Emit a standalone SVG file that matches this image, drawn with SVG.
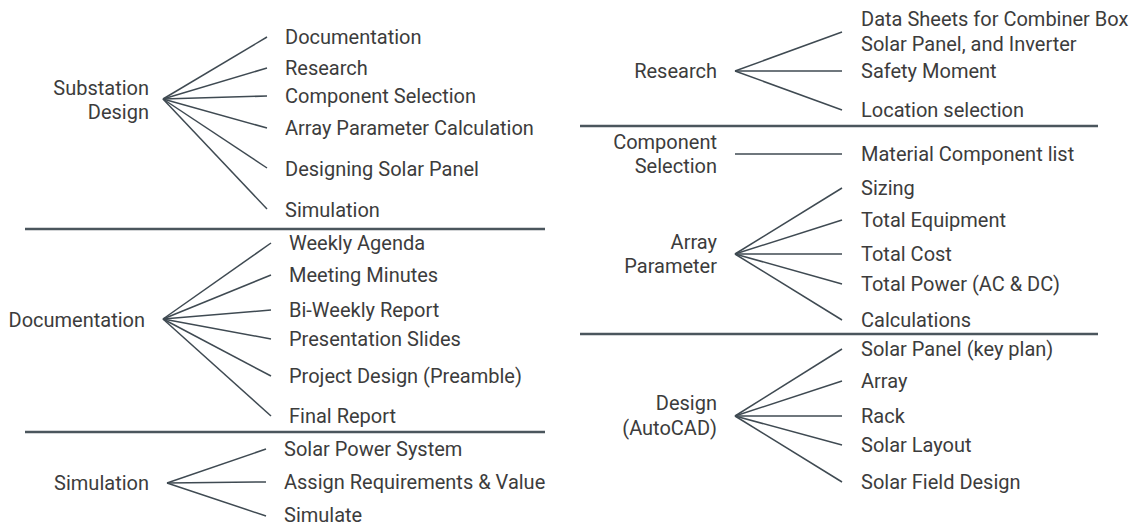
<svg xmlns="http://www.w3.org/2000/svg" width="1133" height="527" viewBox="0 0 1133 527">
<style>
text{font-family:Roboto,"Liberation Sans",sans-serif;font-size:20px;fill:#3c3c3c}
.r{text-anchor:end}
.c line{stroke:#3f4a52;stroke-width:1.5}
.d{stroke:#4b565d;stroke-width:2.5}
</style>
<rect width="1133" height="527" fill="#fff"/>
<g id="connectors" class="c">
<line x1="163" y1="99" x2="267" y2="37"/>
<line x1="163" y1="99" x2="267" y2="68"/>
<line x1="163" y1="99" x2="267" y2="96"/>
<line x1="163" y1="99" x2="267" y2="128"/>
<line x1="163" y1="99" x2="267" y2="168"/>
<line x1="163" y1="99" x2="267" y2="209"/>
<line x1="163" y1="319" x2="271" y2="243"/>
<line x1="163" y1="319" x2="271" y2="275"/>
<line x1="163" y1="319" x2="271" y2="310"/>
<line x1="163" y1="319" x2="271" y2="339"/>
<line x1="163" y1="319" x2="271" y2="376"/>
<line x1="163" y1="319" x2="271" y2="416"/>
<line x1="167" y1="483" x2="266" y2="449"/>
<line x1="167" y1="483" x2="266" y2="482"/>
<line x1="167" y1="483" x2="266" y2="516"/>
<line x1="735" y1="71" x2="842" y2="32"/>
<line x1="735" y1="71" x2="842" y2="71"/>
<line x1="735" y1="71" x2="842" y2="110"/>
<line x1="735" y1="154" x2="842" y2="154"/>
<line x1="735" y1="254" x2="842" y2="188"/>
<line x1="735" y1="254" x2="842" y2="220"/>
<line x1="735" y1="254" x2="842" y2="254"/>
<line x1="735" y1="254" x2="842" y2="284"/>
<line x1="735" y1="254" x2="842" y2="320"/>
<line x1="735" y1="416" x2="842" y2="349"/>
<line x1="735" y1="416" x2="842" y2="381"/>
<line x1="735" y1="416" x2="842" y2="416"/>
<line x1="735" y1="416" x2="842" y2="445"/>
<line x1="735" y1="416" x2="842" y2="482"/>
</g>
<g id="dividers">
<line class="d" x1="25" y1="229" x2="545" y2="229"/>
<line class="d" x1="25" y1="432" x2="545" y2="432"/>
<line class="d" x1="580" y1="126" x2="1098" y2="126"/>
<line class="d" x1="580" y1="334" x2="1098" y2="334"/>
</g>
<g id="substation-design">
<text class="r" x="149" y="95">Substation</text>
<text class="r" x="149" y="119">Design</text>
<text x="285" y="44">Documentation</text>
<text x="285" y="75">Research</text>
<text x="285" y="103">Component Selection</text>
<text x="285" y="135">Array Parameter Calculation</text>
<text x="285" y="176">Designing Solar Panel</text>
<text x="285" y="217">Simulation</text>
</g>
<g id="documentation">
<text class="r" x="145" y="327">Documentation</text>
<text x="289" y="250">Weekly Agenda</text>
<text x="289" y="282">Meeting Minutes</text>
<text x="289" y="317">Bi-Weekly Report</text>
<text x="289" y="346">Presentation Slides</text>
<text x="289" y="383">Project Design (Preamble)</text>
<text x="289" y="423">Final Report</text>
</g>
<g id="simulation">
<text class="r" x="149" y="490">Simulation</text>
<text x="284" y="456">Solar Power System</text>
<text x="284" y="489">Assign Requirements &amp; Value</text>
<text x="284" y="522">Simulate</text>
</g>
<g id="research">
<text class="r" x="717" y="78">Research</text>
<text x="861" y="26">Data Sheets for Combiner Box</text>
<text x="861" y="51">Solar Panel, and Inverter</text>
<text x="861" y="78">Safety Moment</text>
<text x="861" y="117">Location selection</text>
</g>
<g id="component-selection">
<text class="r" x="717" y="149">Component</text>
<text class="r" x="717" y="173">Selection</text>
<text x="861" y="161">Material Component list</text>
</g>
<g id="array-parameter">
<text class="r" x="717" y="249">Array</text>
<text class="r" x="717" y="273">Parameter</text>
<text x="861" y="195">Sizing</text>
<text x="861" y="227">Total Equipment</text>
<text x="861" y="261">Total Cost</text>
<text x="861" y="291">Total Power (AC &amp; DC)</text>
<text x="861" y="327">Calculations</text>
</g>
<g id="design-autocad">
<text class="r" x="717" y="410">Design</text>
<text class="r" x="717" y="435">(AutoCAD)</text>
<text x="861" y="356">Solar Panel (key plan)</text>
<text x="861" y="388">Array</text>
<text x="861" y="423">Rack</text>
<text x="861" y="452">Solar Layout</text>
<text x="861" y="489">Solar Field Design</text>
</g>
</svg>
